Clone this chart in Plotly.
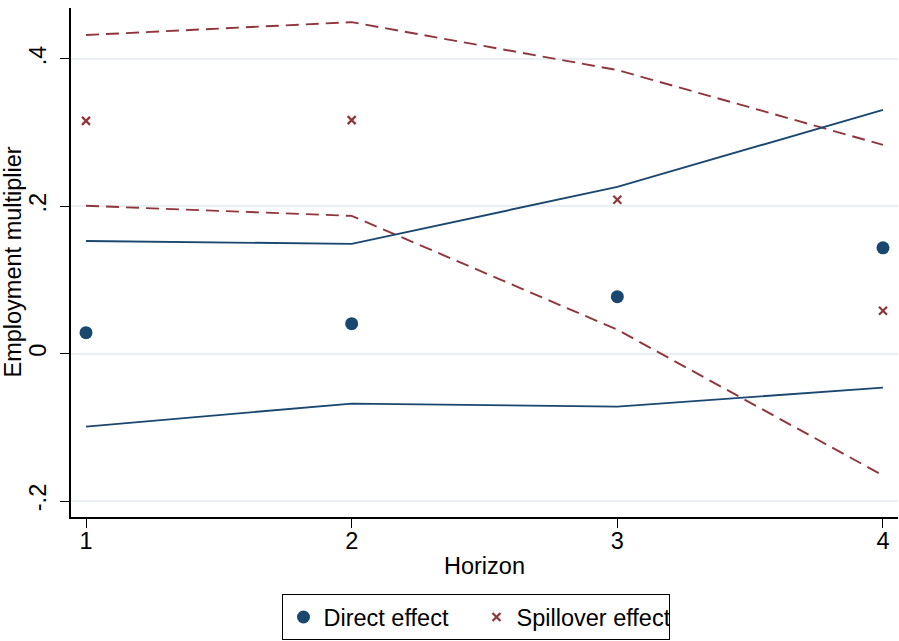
import plotly.graph_objects as go

horizon = [1, 2, 3, 4]
direct = [0.0285, 0.0407, 0.0773, 0.1437]
direct_upper = [0.153, 0.149, 0.2264, 0.331]
direct_lower = [-0.099, -0.0678, -0.0719, -0.0461]
spill = [0.316, 0.317, 0.2088, 0.0583]
spill_upper = [0.4325, 0.450, 0.385, 0.2834]
spill_lower = [0.2007, 0.187, 0.0325, -0.1654]
y_tickvals = [-0.2, 0, 0.2, 0.4]
y_ticktext = ["-.2", "0", ".2", ".4"]
x_tickvals = [1, 2, 3, 4]

NAVY = "#1a476f"
MAROON = "#90353b"
FONT = "Liberation Sans, Arial, sans-serif"
FS = 23.5

fig = go.Figure()
for ys in (spill_upper, spill_lower):
    fig.add_trace(go.Scatter(x=horizon, y=ys, mode="lines", showlegend=False,
                             line=dict(color=MAROON, width=1.9, dash="13px,7px"), hoverinfo="skip"))
for ys in (direct_upper, direct_lower):
    fig.add_trace(go.Scatter(x=horizon, y=ys, mode="lines", showlegend=False,
                             line=dict(color=NAVY, width=1.9), hoverinfo="skip"))
fig.add_trace(go.Scatter(x=horizon, y=direct, mode="markers", name="Direct effect",
                         marker=dict(symbol="circle", size=13, color=NAVY)))
fig.add_trace(go.Scatter(x=horizon, y=spill, mode="markers", name="Spillover effect",
                         marker=dict(symbol="x-thin", size=8, color=MAROON,
                                     line=dict(color=MAROON, width=2.2))))

fig.update_layout(
    width=899, height=641,
    margin=dict(l=71, r=1, t=8, b=124, autoexpand=False),
    paper_bgcolor="white", plot_bgcolor="white",
    font=dict(family=FONT, size=FS, color="black"),
    showlegend=True,
    legend=dict(orientation="h", x=0.4903, xanchor="center", y=0.073, yanchor="top",
                yref="container", bordercolor="black", borderwidth=1,
                font=dict(size=FS), itemsizing="trace", tracegroupgap=0,
                entrywidth=148),
    xaxis=dict(range=[0.9435, 4.0565], tickvals=x_tickvals, showgrid=False, zeroline=False,
               showline=True, linecolor="black", linewidth=1.5, ticks="outside", ticklen=9,
               tickwidth=1.2, tickcolor="black", tickfont=dict(size=FS), automargin=False,
               ticklabelstandoff=-7,
               title=dict(text="Horizon", font=dict(size=FS), standoff=5)),
    yaxis=dict(range=[-0.2217, 0.4692], tickvals=y_tickvals, ticktext=y_ticktext,
               tickangle=-90, showgrid=True, gridcolor="#e8eff2", gridwidth=1.5,
               zeroline=False, showline=True, linecolor="black", linewidth=1.5,
               ticks="outside", ticklen=9, tickwidth=1.2, tickcolor="black",
               tickfont=dict(size=FS), automargin=False, ticklabelstandoff=5),
    annotations=[dict(text="Employment multiplier", textangle=-90, xref="paper", yref="paper",
                      x=0, y=0.5, xanchor="center", yanchor="middle", xshift=-59,
                      showarrow=False, font=dict(size=FS, family=FONT, color="black"))],
)

fig.write_html("out.html", config={"displayModeBar": False},
               post_script="document.body.style.margin='0';")
